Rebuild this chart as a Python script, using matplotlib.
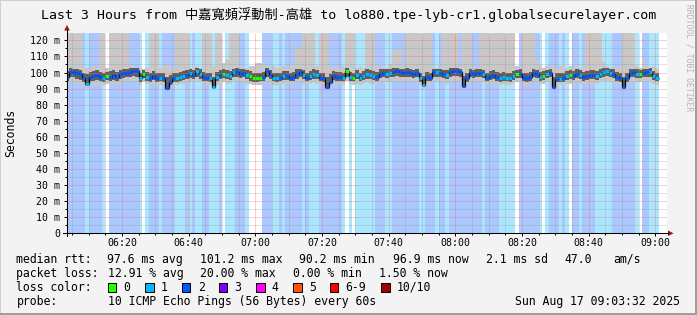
import numpy as np
import matplotlib
matplotlib.use('Agg')
from matplotlib import pyplot as plt
from matplotlib.lines import Line2D
from matplotlib.patches import Polygon, Rectangle
from matplotlib.transforms import Affine2D

W, H = 697, 315
T = 125  # smoke that leaves the top of the graph

# one value per 60 s step, first step starts 06:03 (minutes after 06:00)
first_minute = 3

loss = [2, 2, 2, 2, 2, 2, 1, 2, 2, 2,
        2, 1, 0, 2, 2, 2, 2, 2, 2, 2,
        2, 2, 1, 0, 1, 2, 2, 2, 1, 2,
        2, 2, 2, 1, 1, 1, 2, 1, 2, 1,
        1, 2, 2, 1, 1, 1, 2, 0, 1, 1,
        1, 2, 2, 2, 1, 0, 0, 0, 0, 2,
        2, 2, 1, 1, 2, 1, 2, 2, 2, 2,
        2, 1, 2, 1, 1, 1, 2, 2, 2, 2,
        2, 2, 2, 1, 0, 1, 0, 1, 1, 1,
        1, 1, 1, 2, 2, 2, 1, 1, 2, 2,
        2, 2, 2, 2, 2, 2, 1, 1, 2, 2,
        2, 1, 2, 2, 1, 2, 2, 2, 2, 2,
        2, 2, 2, 2, 2, 1, 2, 2, 2, 2,
        1, 1, 1, 1, 1, 0, 2, 2, 2, 2,
        2, 2, 1, 0, 1, 2, 2, 2, 1, 2,
        1, 0, 2, 2, 1, 2, 2, 2, 2, 1,
        1, 1, 1, 1, 2, 2, 2, 2, 2, 2,
        2, 1, 0, 2, 2, 1, 1, 1]

median = [97.4, 100.5, 100.1, 99.5, 98.9, 96.4, 92.8, 97.4, 98.0, 98.4,
          97.4, 96.4, 97.8, 97.4, 98.4, 97.4, 98.9, 99.5, 99.9, 100.5,
          100.9, 100.9, 96.4, 99.1, 97.4, 96.8, 98.0, 96.4, 96.8, 96.4,
          90.6, 93.9, 96.4, 96.4, 97.4, 98.0, 98.4, 99.5, 98.4, 100.9,
          98.9, 97.4, 96.8, 96.8, 91.2, 97.4, 98.4, 99.1, 98.4, 98.0,
          100.1, 100.1, 99.1, 99.5, 98.4, 97.8, 96.4, 96.4, 96.8, 97.4,
          101.2, 98.4, 96.8, 96.4, 96.8, 98.0, 98.0, 96.8, 97.4, 98.9,
          100.1, 98.4, 96.8, 98.0, 98.9, 98.4, 96.8, 96.4, 91.2, 94.3,
          98.0, 97.4, 97.4, 96.8, 100.9, 97.4, 96.8, 98.4, 96.8, 98.0,
          98.9, 98.4, 98.0, 97.4, 98.9, 99.5, 98.9, 99.5, 100.5, 100.9,
          100.1, 99.5, 100.1, 99.5, 98.9, 99.5, 96.4, 92.2, 97.4, 96.8,
          100.1, 100.1, 99.5, 98.9, 98.4, 100.5, 100.9, 100.9, 100.1, 91.8,
          96.4, 99.5, 98.9, 99.5, 99.5, 98.9, 96.8, 98.0, 98.4, 97.4,
          96.4, 97.4, 96.8, 96.4, 98.0, 98.9, 98.9, 96.8, 96.4, 97.4,
          99.5, 98.9, 97.4, 98.0, 98.9, 99.5, 91.2, 96.0, 96.0, 96.4,
          98.0, 98.4, 98.0, 98.9, 98.4, 97.4, 98.0, 98.4, 98.4, 98.0,
          98.9, 100.5, 100.9, 99.5, 98.9, 97.4, 96.4, 91.2, 96.4, 99.5,
          100.1, 98.9, 98.9, 99.5, 100.1, 100.5, 98.0, 96.8]

# inner (denser) part of the smoke
mid_lo = [95, 97, 97, 96, 95.5, 94, 92, 94.5, 95, 95.5,
          94.5, 94, 95.5, 94.5, 95.5, 94.5, 96, 96.5, 97, 97.5,
          98, 97.5, 94, 96.5, 95, 94, 95.5, 94, 94.5, 94,
          90.5, 92.5, 94, 94, 95, 95.5, 96, 96.5, 96, 97.5,
          96, 95, 94.5, 94, 91, 95, 96, 96.5, 96, 95.5,
          97.5, 97, 96.5, 97, 96, 95, 94, 94, 94.5, 95,
          97.5, 96, 94.5, 94, 94.5, 95.5, 95.5, 94.5, 95, 96,
          97, 96, 94.5, 95.5, 96, 96, 94.5, 94, 91, 93,
          95.5, 95, 95, 94.5, 97.5, 95, 94.5, 96, 94.5, 95.5,
          96, 96, 95.5, 95, 96.5, 97, 96.5, 97, 97.5, 98,
          97.5, 97, 97.5, 97, 96.5, 97, 94, 92, 95, 94.5,
          97.5, 97.5, 97, 96.5, 96, 97.5, 98, 98, 97.5, 91.5,
          94, 97, 96.5, 97, 97, 96.5, 94.5, 95.5, 96, 95,
          94, 95, 94.5, 94, 95.5, 96.5, 96.5, 94.5, 94, 95,
          97, 96.5, 95, 95.5, 96.5, 97, 91, 94, 94, 94,
          95.5, 96, 95.5, 96.5, 96, 95, 95.5, 96, 96, 95.5,
          96.5, 97.5, 98, 97, 96.5, 95, 94, 91, 94, 97,
          97.5, 96.5, 96.5, 97, 97.5, 97.5, 95.5, 94.5]

mid_hi = [101, 103, 102.5, 102, 101.5, 100, 99, 100.5, 101, 101.5,
          100.5, 100, 100.5, 101, 101.5, 100.5, 101.5, 102, 102.5, 103,
          103, 103, 100, 101.5, 100.5, 100, 101, 99.5, 100, 99.5,
          97.5, 98.5, 99.5, 100, 100.5, 101, 101.5, 102, 101.5, 103,
          102, 100.5, 100, 100, 97.5, 100.5, 101.5, 102, 101.5, 101,
          102.5, 103, 102, 102, 101.5, 101, 100, 99.5, 100, 100.5,
          103, 101.5, 100, 99.5, 100, 101, 101, 100, 100.5, 102,
          102.5, 101.5, 100, 101, 102, 101.5, 100, 99.5, 97.5, 99,
          101, 100.5, 100.5, 100, 103, 100.5, 100, 101.5, 100, 101,
          102, 101.5, 101, 100.5, 102, 102.5, 102, 102.5, 103, 103,
          102.5, 102, 103, 102, 101.5, 102, 100, 98, 100.5, 100,
          102.5, 102.5, 102, 101.5, 101.5, 103, 103, 103, 102.5, 98,
          100, 102, 101.5, 102, 102.5, 101.5, 100, 101, 101.5, 100.5,
          99.5, 100.5, 100, 99.5, 101, 101.5, 102, 100, 99.5, 100.5,
          102, 101.5, 100.5, 101, 101.5, 102, 97.5, 99.5, 99.5, 100,
          101, 101.5, 101, 102, 101.5, 100.5, 101, 101.5, 101.5, 101,
          102, 103, 103, 102.5, 102, 100.5, 100, 97.5, 100, 102.5,
          102.5, 102, 101.5, 102, 102.5, 103, 101, 100]

smoke_lo = [93, 94, 94, 93, 93, 92, 90, 92, 93, 93,
            93, 92, 93, 92, 93, 92, 93, 94, 94, 95,
            95, 95, 92, 94, 93, 92, 93, 92, 92, 92,
            89, 90, 92, 92, 93, 93, 94, 94, 94, 95,
            94, 93, 92, 92, 89.5, 92, 93, 94, 93, 93,
            95, 95, 94, 94, 93, 93, 92, 92, 92, 93,
            95, 93, 92, 92, 92, 93, 93, 92, 93, 94,
            95, 93, 92, 93, 94, 93, 92, 92, 89.5, 91,
            93, 93, 93, 92, 95, 93, 92, 93, 92, 93,
            94, 93, 93, 93, 94, 94, 94, 94, 95, 95,
            95, 94, 95, 94, 94, 94, 92, 90, 92, 92,
            95, 95, 94, 94, 93, 95, 95, 95, 95, 90,
            92, 94, 94, 94, 94, 94, 92, 93, 93, 93,
            92, 93, 92, 92, 93, 94, 94, 92, 92, 93,
            94, 94, 93, 93, 94, 94, 89.5, 91, 92, 92,
            93, 93, 93, 94, 93, 93, 93, 93, 93, 93,
            94, 95, 95, 94, 94, 93, 92, 89.5, 92, 94,
            95, 94, 94, 94, 95, 95, 93, 92]

smoke_hi = [T, T, T, T, T, 104, 103, 103, 104, 103,
            T, T, 103, T, T, T, T, T, T, 104,
            104, 103, 103, 102, 103, T, T, T, 103, 104,
            105, 104, 103, T, T, T, T, 103, 104, 104,
            103, T, T, T, 104, T, T, 106, 108, T,
            T, T, 104, 103, 103, 104, 104, 106, 106, 106,
            104, 103, 104, 103, 104, 104, 103, 104, 105, 116,
            116, T, T, T, T, 104, T, T, T, 104,
            103, 104, 103, 104, T, T, T, 103, 104, 103,
            T, T, T, 104, 103, 104, 103, 105, 114, 114,
            114, 104, T, T, T, T, T, T, T, T,
            104, 103, 104, T, T, T, T, T, 104, T,
            T, T, 104, 103, T, T, T, T, T, T,
            T, T, T, T, T, 104, 103, T, T, T,
            T, 108, 104, 103, 104, 103, 104, 103, 104, 105,
            103, 104, 103, 104, 103, 104, T, T, T, T,
            T, 107, 104, 103, 104, 103, 104, T, T, T,
            T, 104, 103, 108, 104, 103, 104, 103]

hour_ticks = [20, 40, 60, 80, 100, 120, 140, 160, 180]
hour_labels = ['06:20', '06:40', '07:00', '07:20', '07:40',
               '08:00', '08:20', '08:40', '09:00']
ms_ticks = [0, 10, 20, 30, 40, 50, 60, 70, 80, 90, 100, 110, 120]
ms_labels = ['0', '10 m', '20 m', '30 m', '40 m', '50 m', '60 m',
             '70 m', '80 m', '90 m', '100 m', '110 m', '120 m']

loss_names = ['0', '1', '2', '3', '4', '5', '6-9', '10/10']
loss_colors = ['#26ff00', '#00b8ff', '#0059ff', '#7e00ff',
               '#ff00ff', '#ff5500', '#ff0000', '#a10000']
loss_bg = ['#ffffff', '#aae7ff', '#aac8ff']

rtt_stats = ['97.6 ms avg', '101.2 ms max', '90.2 ms min', '96.9 ms now',
             '2.1 ms sd', '47.0', 'am/s']
loss_stats = ['12.91 % avg', '20.00 % max', '0.00 % min', '1.50 % now']

title = 'Last 3 Hours from 中嘉寬頻浮動制-高雄 to lo880.tpe-lyb-cr1.globalsecurelayer.com'

plt.rcParams['font.family'] = ['DejaVu Sans Mono', 'Noto Sans CJK TC']

fig = plt.figure(figsize=(W / 100, H / 100), dpi=100, facecolor='#f3f3f3')
px = Affine2D().scale(1 / W, -1 / H).translate(0, 1) + fig.transFigure

ax = fig.add_axes([67 / W, (H - 233.3) / H, 600 / W, 200 / H])
ax.set_facecolor('white')

t = first_minute + np.arange(len(median))
edges = np.append(t, t[-1] + 1)
med = np.array(median, dtype=float)
lo = np.array(smoke_lo, dtype=float)
hi = np.array(smoke_hi, dtype=float)
mlo = np.array(mid_lo, dtype=float)
mhi = np.array(mid_hi, dtype=float)

# loss shading behind everything
for ti, l in zip(t, loss):
    ax.axvspan(ti, ti + 1, color=loss_bg[l], lw=0, zorder=0.5, antialiased=False)

# smoke
ax.bar(t, hi - lo, bottom=lo, width=1, align='edge', color='#c8c8c8',
       lw=0, zorder=1, antialiased=False)
ax.bar(t, mhi - mlo, bottom=mlo, width=1, align='edge', color='#5e5e5e',
       lw=0, zorder=1.1, antialiased=False)

# median
ax.stairs(med, edges, baseline=None, color='black', lw=0.9, zorder=3)
ax.hlines(med, t, t + 1, colors=[loss_colors[l] for l in loss], lw=2.2, zorder=3.2)

ax.set_xlim(3.53, 183.53)
ax.set_ylim(0, 124.4)
ax.set_xticks(hour_ticks, hour_labels)
ax.set_xticks(np.arange(5, 185, 5), minor=True)
ax.set_yticks(ms_ticks, ms_labels)
ax.set_yticks(np.arange(5, 125, 10), minor=True)
ax.set_axisbelow(False)
ax.grid(which='major', color='#ff5c5c', alpha=0.6, ls=(0, (1, 1)), lw=0.72)
ax.grid(which='minor', color='#8e8e8e', alpha=0.5, ls=(0, (1, 1)), lw=0.72)
ax.tick_params(which='major', length=2.2, width=0.72, labelsize=7.1)
ax.tick_params(which='minor', length=1.4, width=0.72)
ax.tick_params(axis='x', pad=1.0)
ax.tick_params(axis='y', pad=2.9)
for s in ax.spines.values():
    s.set_visible(False)

# axis lines with arrows
fig.add_artist(Line2D([63, 668], [233.3, 233.3], transform=px, color='black', lw=0.75))
fig.add_artist(Line2D([67, 67], [236, 30], transform=px, color='black', lw=0.75))
fig.add_artist(Polygon([[668, 230.5], [668, 236.1], [673.5, 233.3]], closed=True,
                       transform=px, color='#8b1a1a', lw=0))
fig.add_artist(Polygon([[64.2, 30.5], [69.8, 30.5], [67, 25]], closed=True,
                       transform=px, color='#8b1a1a', lw=0))

fig.text(348.5, 15, title, transform=px, ha='center', va='center', size=9.5)
fig.text(11, 132.5, 'Seconds', transform=px, rotation=90, ha='center',
         va='center', size=8.3)
fig.text(688.5, 4, 'RRDTOOL / TOBI OETIKER', transform=px, rotation=270,
         ha='center', va='top', size=5.8, color='#b4b4b4')

# legend block
fs = 8.3
fig.text(16.4, 259.3, 'median rtt:', transform=px, va='center', size=fs)
for x, s in zip([106.7, 200, 299, 393, 485.8, 564.4, 613.3], rtt_stats):
    fig.text(x, 259.3, s, transform=px, va='center', size=fs)
fig.text(16.4, 273.3, 'packet loss:', transform=px, va='center', size=fs)
for x, s in zip([107.6, 200, 293.3, 378.7], loss_stats):
    fig.text(x, 273.3, s, transform=px, va='center', size=fs)
fig.text(16.4, 287.3, 'loss color:', transform=px, va='center', size=fs)
box_x = [108, 145.3, 182.2, 219, 256.4, 293.3, 330.2, 381.3]
for bx, c, name in zip(box_x, loss_colors, loss_names):
    fig.add_artist(Rectangle((bx, 283.3), 8.2, 8.2, transform=px,
                             facecolor=c, edgecolor='black', lw=0.7))
    fig.text(bx + 15.5, 287.3, name, transform=px, va='center', size=fs)
fig.text(16.4, 301, 'probe:', transform=px, va='center', size=fs)
fig.text(107.6, 301, '10 ICMP Echo Pings (56 Bytes) every 60s', transform=px,
         va='center', size=fs)
fig.text(680, 301, 'Sun Aug 17 09:03:32 2025', transform=px, ha='right',
         va='center', size=fs)

# frame shading
fig.add_artist(Rectangle((0, 0), W, 1, transform=px, color='#cfcfcf', lw=0))
fig.add_artist(Rectangle((0, 0), 1, H, transform=px, color='#cfcfcf', lw=0))
fig.add_artist(Rectangle((W - 2, 0), 2, H, transform=px, color='#9e9e9e', lw=0))
fig.add_artist(Rectangle((0, H - 2), W, 2, transform=px, color='#9e9e9e', lw=0))

fig.savefig('out.png', dpi=100, facecolor=fig.get_facecolor())
